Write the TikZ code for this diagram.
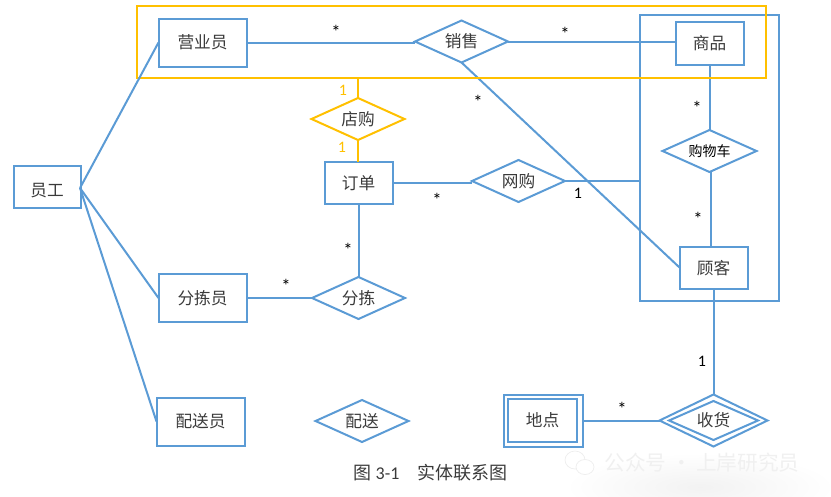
\documentclass[tikz,border=0pt]{standalone}
\usepackage{fontspec}
\setmainfont{Carlito}
\newfontfamily\cjk{Noto Sans CJK SC}
\usetikzlibrary{shapes.geometric}
\definecolor{eblue}{HTML}{5B9BD5}
\definecolor{eyellow}{HTML}{FFC000}
\definecolor{etext}{HTML}{3A3A3A}
\tikzset{
  ebox/.style 2 args={draw=eblue,line width=1.5pt,rectangle,inner sep=0pt,outer sep=0pt,
    minimum width=#1*0.75pt,minimum height=#2*0.75pt,text=etext,font=\cjk\fontsize{12.5}{14}\selectfont},
  rel/.style 2 args={draw=eblue,line width=1.5pt,diamond,aspect=2.2,inner sep=0pt,outer sep=0pt,
    minimum width=#1*0.75pt,minimum height=#2*0.75pt,text=etext,font=\cjk\fontsize{12.5}{14}\selectfont},
  relY/.style 2 args={rel={#1}{#2},draw=eyellow},
  frameB/.style 2 args={ebox={#1}{#2}},
  frameY/.style 2 args={ebox={#1}{#2},draw=eyellow},
  link/.style={draw=eblue,line width=1.5pt},
  linkY/.style={draw=eyellow,line width=1.5pt},
  star/.style={inner sep=0pt,font=\fontsize{14}{14}\selectfont,text=black},
  num/.style={inner sep=0pt,font=\fontsize{12}{12}\selectfont,text=black},
  numY/.style={inner sep=0pt,font=\fontsize{12}{12}\selectfont,text=eyellow},
}
\begin{document}
\begin{tikzpicture}[x=0.75pt,y=-0.75pt]
\useasboundingbox (0,0) rectangle (831,496);
% watermark shadow and mark
\shade[inner color=black!5,outer color=white,draw=none] (700,487) ellipse [x radius=135,y radius=34];
\draw[draw=black!7,fill=white,line width=0.5pt] (575,460) ellipse [x radius=10,y radius=9];
\draw[draw=black!7,fill=white,line width=0.5pt] (585,467) ellipse [x radius=9,y radius=7.5];
\node[inner sep=0pt,text=black!6,font=\cjk\fontsize{15.5}{17}\selectfont] (mark) at (702,463) {公众号 · 上岸研究员};
% frames
\node[frameB={139}{286}] (bframe) at (709,157.5) {};
% entities
\node[ebox={88}{48}] (yingye) at (202.5,42.5) {营业员};
\node[ebox={67}{42},text height=16pt,text depth=2pt] (yuangong) at (47,187) {员工};
\node[ebox={68}{42},text height=13pt,text depth=2pt] (dingdan) at (358.5,182.5) {订单};
\node[ebox={88}{48}] (fenjianyuan) at (202.5,298) {分拣员};
\node[ebox={88}{48}] (peisongyuan) at (200.5,421.5) {配送员};
\node[ebox={68}{43}] (shangpin) at (709.5,43) {商品};
\node[ebox={68}{42},text height=13pt,text depth=2pt] (guke) at (713.5,267.5) {顾客};
\node[ebox={79}{52}] (didianO) at (543,420.5) {};
\node[ebox={69}{43}] (didian) at (542.5,420.5) {地点};
% relationships
\node[rel={93}{42}] (xiaoshou) at (461.5,41.5) {销售};
\node[relY={93}{42}] (dianguo) at (358,119) {店购};
\node[rel={93}{42}] (wanggou) at (518.5,181) {网购};
\node[rel={94}{42},font=\cjk\fontsize{10.5}{12}\selectfont,text=black] (gouwuche) at (709.5,151) {购物车};
\node[rel={93}{42}] (fenjian) at (358.5,298) {分拣};
\node[rel={93}{42}] (peisong) at (362,421) {配送};
\node[rel={108}{52}] (shouhuoO) at (713.5,420.5) {};
\node[rel={89}{39}] (shouhuo) at (713.5,420.5) {收货};
% free ends
\coordinate (yg) at (80,188);
\coordinate (wgEnd) at (639,181);
\coordinate (gwA) at (711,172);
\coordinate (gkA) at (711,246.5);
% connectors under the yellow frame
\draw[link] (yg) -- (fenjianyuan.west);
\draw[link] (yg) -- (peisongyuan.west);
\draw[link] (yingye.east) -- (yingye.east -| xiaoshou.west);
\draw[link] (xiaoshou.east) -- (xiaoshou.east -| shangpin.west);
\draw[link] (xiaoshou.south) -- (guke.west);
\draw[link] (dingdan.east) -- (dingdan.east -| wanggou.west);
\draw[link] (wanggou.east) -- (wgEnd);
\draw[link] (dingdan.south) -- (fenjian.north);
\draw[link] (fenjianyuan.east) -- (fenjian.west);
\draw[link] (shangpin.south) -- (gouwuche.north);
\draw[link] (gwA) -- (gkA);
\draw[link] (guke.south) -- (shouhuoO.north);
\draw[link] (didianO.east) -- (shouhuoO.west);
% yellow frame and its links
\node[frameY={629}{72}] (yframe) at (451,41.5) {};
\draw[linkY] (yframe.south -| dianguo.north) -- (dianguo.north);
\draw[linkY] (dianguo.south) -- (dingdan.north -| dianguo.south);
\draw[link] (yg) -- (yingye.west);
% cardinalities
\node[star] (s1) at (336,32) {*};
\node[star] (s2) at (565,34) {*};
\node[star] (s3) at (478,102) {*};
\node[star] (s4) at (697,108) {*};
\node[star] (s5) at (698,219) {*};
\node[star] (s6) at (437,200) {*};
\node[star] (s7) at (348,250) {*};
\node[star] (s8) at (286,286) {*};
\node[star] (s9) at (622,409) {*};
\node[num] (n1) at (578,193) {1};
\node[num] (n2) at (702,361) {1};
\node[numY] (n3) at (343,90) {1};
\node[numY] (n4) at (342,147) {1};
% caption
\node[inner sep=0pt,text=etext,font=\fontsize{13.5}{15}\selectfont] (caption) at (430.5,473) {{\cjk 图} 3-1\hspace{1em}{\cjk 实体联系图}};
\end{tikzpicture}
\end{document}
